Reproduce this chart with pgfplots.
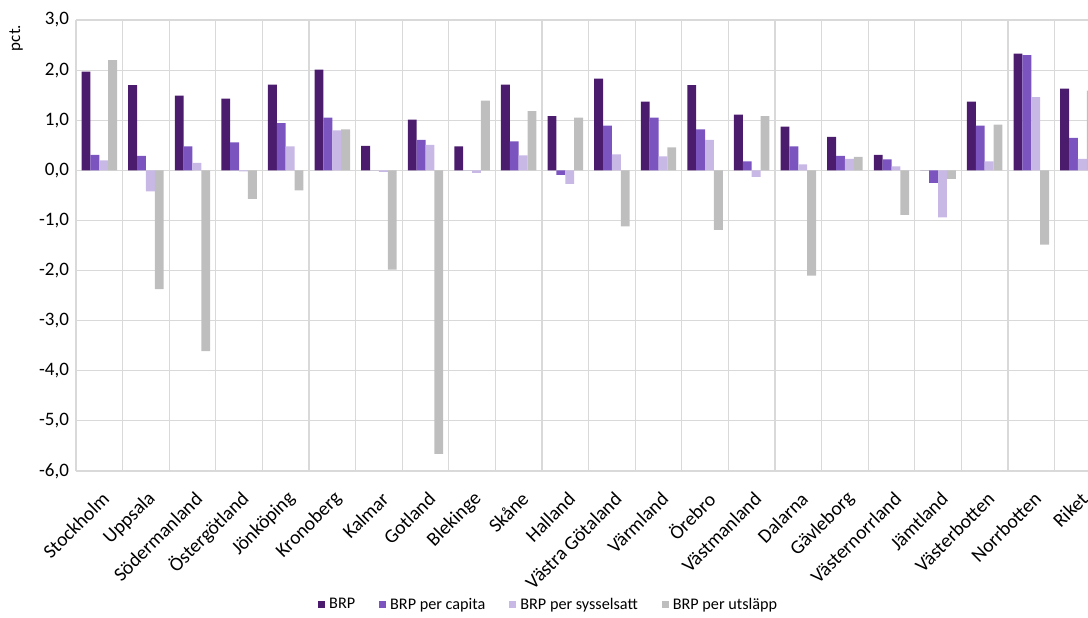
\documentclass[border=0pt]{standalone}
\usepackage{pgfplots}
\usepackage{pgfplotstable}
\pgfplotsset{compat=1.18}
\usepackage{fontspec}
\setmainfont{Carlito}
\definecolor{c1}{RGB}{75,28,110}
\definecolor{c2}{RGB}{123,84,192}
\definecolor{c3}{RGB}{200,184,230}
\definecolor{c4}{RGB}{190,190,190}
\definecolor{gridc}{RGB}{217,217,217}
\pgfplotstableread{
x brp cap sys uts
0 1.97 0.31 0.20 2.20
1 1.70 0.29 -0.42 -2.37
2 1.49 0.48 0.15 -3.61
3 1.43 0.56 -0.02 -0.57
4 1.71 0.94 0.48 -0.40
5 2.01 1.05 0.80 0.82
6 0.49 0.00 -0.03 -1.98
7 1.01 0.61 0.51 -5.66
8 0.48 0.00 -0.05 1.39
9 1.71 0.58 0.30 1.18
10 1.08 -0.09 -0.27 1.05
11 1.83 0.89 0.32 -1.12
12 1.37 1.05 0.28 0.46
13 1.70 0.82 0.61 -1.19
14 1.11 0.18 -0.13 1.08
15 0.87 0.48 0.12 -2.10
16 0.67 0.29 0.23 0.27
17 0.31 0.22 0.08 -0.89
18 0.00 -0.25 -0.94 -0.17
19 1.37 0.89 0.18 0.91
20 2.33 2.30 1.46 -1.48
21 1.63 0.65 0.23 1.59
}\data
\begin{document}
\begin{tikzpicture}
\begin{axis}[
  at={(38pt,73pt)}, anchor=south west,
  scale only axis, width=512.6pt, height=225.5pt,
  xmin=-0.5, xmax=21.5, ymin=-6, ymax=3,
  ytick={-6,-5,-4,-3,-2,-1,0,1,2,3},
  xtick={0,1,2,3,4,5,6,7,8,9,10,11,12,13,14,15,16,17,18,19,20,21},
  minor xtick={-0.5,0.5,1.5,2.5,3.5,4.5,5.5,6.5,7.5,8.5,9.5,10.5,11.5,12.5,13.5,14.5,15.5,16.5,17.5,18.5,19.5,20.5,21.5},
  xticklabels={Stockholm, Uppsala, Södermanland, Östergötland, Jönköping, Kronoberg, Kalmar, Gotland, Blekinge, Skåne, Halland, Västra Götaland, Värmland, Örebro, Västmanland, Dalarna, Gävleborg, Västernorrland, Jämtland, Västerbotten, Norrbotten, Riket},
  xticklabel style={rotate=45, anchor=east, font=\fontsize{9.8}{11}\selectfont, yshift=-11pt, xshift=-3pt},
  yticklabel style={font=\fontsize{9.5}{11}\selectfont},
  /pgf/number format/.cd, use comma, fixed, fixed zerofill, precision=1, assume math mode=true,
  /pgfplots/.cd,
  major tick length=0pt, minor tick length=0pt,
  ymajorgrids, xminorgrids,
  grid style={gridc, line width=0.6pt},
  minor grid style={gridc, line width=0.6pt},
  axis line style={draw=none},
  bar width=0.19,
  ybar=0pt,
  legend columns=4,
  legend style={at={(rel axis cs:0.462,-0.297)}, anchor=center, draw=none,
    font=\fontsize{8.1}{9}\selectfont, inner xsep=0pt,
    /tikz/every even column/.append style={column sep=10pt},
    /tikz/every odd column/.append style={column sep=0pt}},
  legend image code/.code={\fill[#1] (0pt,-1.75pt) rectangle (3.5pt,1.75pt);},
]
\addplot[fill=c1, draw=none, bar shift=-0.285] table[x=x,y=brp]{\data};
\addlegendentry{BRP}
\addplot[fill=c2, draw=none, bar shift=-0.095] table[x=x,y=cap]{\data};
\addlegendentry{BRP per capita}
\addplot[fill=c3, draw=none, bar shift=0.095] table[x=x,y=sys]{\data};
\addlegendentry{BRP per sysselsatt}
\addplot[fill=c4, draw=none, bar shift=0.285] table[x=x,y=uts]{\data};
\addlegendentry{BRP per utsläpp}
\end{axis}
\node[rotate=90, font=\fontsize{8.5}{10}\selectfont] at (8pt,289.5pt) {pct.};
\pgfresetboundingbox
\path[use as bounding box] (0,0) rectangle (544pt,308.5pt);
\end{tikzpicture}
\end{document}
